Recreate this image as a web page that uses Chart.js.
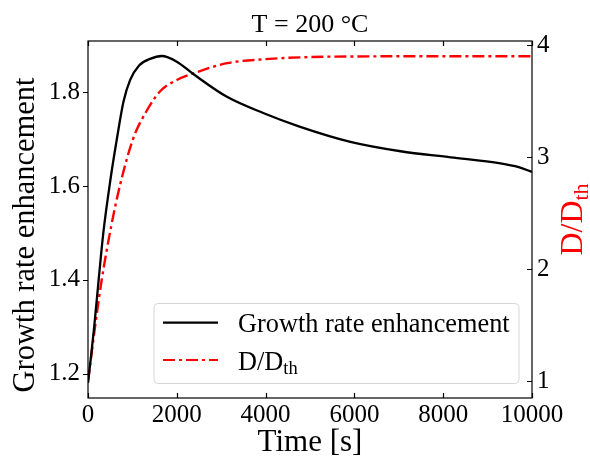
<!DOCTYPE html>
<html><head><meta charset="utf-8">
<script src="https://cdn.jsdelivr.net/npm/chart.js@4.4.1/dist/chart.umd.min.js"></script>
<style>html,body{margin:0;padding:0;background:#fff;}#wrap{width:590px;height:459px;}</style>
</head><body><div id="wrap"><canvas id="c" width="590" height="459"></canvas></div>
<script>
const titleText = 'T = 200 °C';
const xTitle = 'Time [s]';
const leftTitle = 'Growth rate enhancement';
const rightTitleMain = 'D/D';
const rightTitleSub = 'th';
const growthLabel = 'Growth rate enhancement';
const ratioLabelMain = 'D/D';
const ratioLabelSub = 'th';

const growthTime  = [0, 60, 140, 240, 345, 500, 650, 800, 950, 1150, 1400, 1660, 2000, 2380, 3130, 3960, 4780, 5910, 7040, 8170, 9290, 9700, 10000];
const growthValue = [1.18, 1.23, 1.30, 1.40, 1.50, 1.61, 1.70, 1.78, 1.826, 1.857, 1.871, 1.877, 1.865, 1.838, 1.79, 1.755, 1.726, 1.694, 1.674, 1.661, 1.648, 1.640, 1.630];
const ratioTime  = [0, 170, 310, 520, 720, 1020, 1300, 1625, 2000, 2380, 3130, 3960, 5000, 6000, 8000, 10000];
const ratioValue = [1.0, 1.52, 1.91, 2.38, 2.75, 3.17, 3.40, 3.59, 3.69, 3.75, 3.84, 3.875, 3.895, 3.90, 3.902, 3.902];

const xTicks = [0, 2000, 4000, 6000, 8000, 10000];
const leftTicks = [1.2, 1.4, 1.6, 1.8];
const rightTicks = [1, 2, 3, 4];
const xRange = [0, 10000];
const leftRange = [1.148, 1.909];
const rightRange = [0.852, 4.038];

const FAM = "'Liberation Serif', 'Times New Roman', serif";

const framePlugin = {
  id: 'frame',
  afterDraw(chart) {
    const ctx = chart.ctx;
    const a = chart.chartArea;
    const sx = chart.scales.x, sy = chart.scales.y, sr = chart.scales.y1;
    ctx.save();
    ctx.strokeStyle = '#000';
    ctx.lineWidth = 1.2;
    ctx.strokeRect(a.left, a.top, a.right - a.left, a.bottom - a.top);
    ctx.beginPath();
    xTicks.forEach(v => {
      const px = Math.round(sx.getPixelForValue(v)) + 0.5;
      ctx.moveTo(px, a.bottom); ctx.lineTo(px, a.bottom - 5);
      ctx.moveTo(px, a.top); ctx.lineTo(px, a.top + 5);
    });
    leftTicks.forEach(v => {
      const py = Math.round(sy.getPixelForValue(v)) + 0.5;
      ctx.moveTo(a.left, py); ctx.lineTo(a.left - 5, py);
    });
    rightTicks.forEach(v => {
      const py = Math.round(sr.getPixelForValue(v)) + 0.5;
      ctx.moveTo(a.right, py); ctx.lineTo(a.right - 5, py);
    });
    ctx.stroke();

    // title
    ctx.fillStyle = '#000';
    ctx.font = "26px " + FAM;
    ctx.textAlign = 'center';
    ctx.textBaseline = 'alphabetic';
    ctx.fillText(titleText, (a.left + a.right) / 2, 31.5);

    // left axis title
    ctx.save();
    ctx.translate(33.5, 235);
    ctx.rotate(-Math.PI / 2);
    ctx.fillStyle = '#000';
    ctx.font = "30.5px " + FAM;
    ctx.textAlign = 'center';
    ctx.fillText(leftTitle, 0, 0);
    ctx.restore();

    // right axis title (rotated, reading upward)
    ctx.save();
    ctx.translate(581.5, (a.top + a.bottom) / 2);
    ctx.rotate(-Math.PI / 2);
    ctx.fillStyle = '#ff0000';
    ctx.font = "32px " + FAM;
    const wMain = ctx.measureText(rightTitleMain).width;
    ctx.font = "22px " + FAM;
    const wSub = ctx.measureText(rightTitleSub).width;
    const start = -(wMain + wSub) / 2;
    ctx.textAlign = 'left';
    ctx.font = "32px " + FAM;
    ctx.fillText(rightTitleMain, start, 0);
    ctx.font = "22px " + FAM;
    ctx.fillText(rightTitleSub, start + wMain, 6.5);
    ctx.restore();

    // legend
    const L = 154, T = 303.5, R = 519, B = 383.5, r = 4;
    ctx.beginPath();
    ctx.moveTo(L + r, T); ctx.lineTo(R - r, T); ctx.quadraticCurveTo(R, T, R, T + r);
    ctx.lineTo(R, B - r); ctx.quadraticCurveTo(R, B, R - r, B);
    ctx.lineTo(L + r, B); ctx.quadraticCurveTo(L, B, L, B - r);
    ctx.lineTo(L, T + r); ctx.quadraticCurveTo(L, T, L + r, T);
    ctx.closePath();
    ctx.fillStyle = 'rgba(255,255,255,0.8)';
    ctx.fill();
    ctx.strokeStyle = '#d6d6d6';
    ctx.lineWidth = 1;
    ctx.stroke();

    ctx.lineWidth = 2.2;
    ctx.strokeStyle = '#000';
    ctx.beginPath(); ctx.moveTo(163, 322.7); ctx.lineTo(218, 322.7); ctx.stroke();
    ctx.strokeStyle = '#ff0000';
    ctx.setLineDash([12, 4, 3, 4]);
    ctx.beginPath(); ctx.moveTo(163, 360); ctx.lineTo(218, 360); ctx.stroke();
    ctx.setLineDash([]);

    ctx.fillStyle = '#000';
    ctx.textAlign = 'left';
    ctx.font = "26.3px " + FAM;
    ctx.fillText(growthLabel, 238, 331.7);
    ctx.fillText(ratioLabelMain, 238, 370);
    const wl = ctx.measureText(ratioLabelMain).width;
    ctx.font = "18.5px " + FAM;
    ctx.fillText(ratioLabelSub, 238 + wl, 374);
    ctx.restore();
  }
};

new Chart(document.getElementById('c'), {
  type: 'line',
  data: {
    datasets: [
      {
        label: growthLabel,
        data: growthTime.map((t, i) => ({ x: t, y: growthValue[i] })),
        borderColor: '#000000',
        borderWidth: 2.3,
        pointRadius: 0,
        cubicInterpolationMode: 'monotone',
        fill: false,
        yAxisID: 'y'
      },
      {
        label: ratioLabelMain + ratioLabelSub,
        data: ratioTime.map((t, i) => ({ x: t, y: ratioValue[i] })),
        borderColor: '#ff0000',
        borderWidth: 2.4,
        borderDash: [12, 4, 3, 4],
        pointRadius: 0,
        cubicInterpolationMode: 'monotone',
        fill: false,
        yAxisID: 'y1'
      }
    ]
  },
  options: {
    responsive: false,
    animation: false,
    devicePixelRatio: 1,
    layout: { padding: { top: 41, left: 0, right: 0, bottom: 0 } },
    plugins: { legend: { display: false }, title: { display: false }, tooltip: { enabled: false } },
    scales: {
      x: {
        type: 'linear', min: xRange[0], max: xRange[1],
        afterBuildTicks: s => { s.ticks = xTicks.map(v => ({ value: v })); },
        afterFit: s => { s.height = 61; },
        grid: { display: false, drawTicks: false },
        border: { display: false },
        ticks: { font: { family: FAM, size: 25, lineHeight: 1.2 }, color: '#000', padding: 2, maxRotation: 0, autoSkip: false, callback: v => String(v) },
        title: { display: true, text: xTitle, color: '#000', font: { family: FAM, size: 31, lineHeight: 1 }, padding: { top: 0, bottom: 1 } }
      },
      y: {
        type: 'linear', position: 'left', min: leftRange[0], max: leftRange[1],
        afterBuildTicks: s => { s.ticks = leftTicks.map(v => ({ value: v })); },
        afterFit: s => { s.width = 88; },
        grid: { display: false, drawTicks: false },
        border: { display: false },
        ticks: { font: { family: FAM, size: 25 }, color: '#000', padding: 8, autoSkip: false, callback: v => v.toFixed(1) }
      },
      y1: {
        type: 'linear', position: 'right', min: rightRange[0], max: rightRange[1],
        afterBuildTicks: s => { s.ticks = rightTicks.map(v => ({ value: v })); },
        afterFit: s => { s.width = 58; },
        grid: { display: false, drawTicks: false },
        border: { display: false },
        ticks: { font: { family: FAM, size: 25 }, color: '#000', padding: 5, autoSkip: false, callback: v => String(v) }
      }
    }
  },
  plugins: [framePlugin]
});
</script>
</body></html>
